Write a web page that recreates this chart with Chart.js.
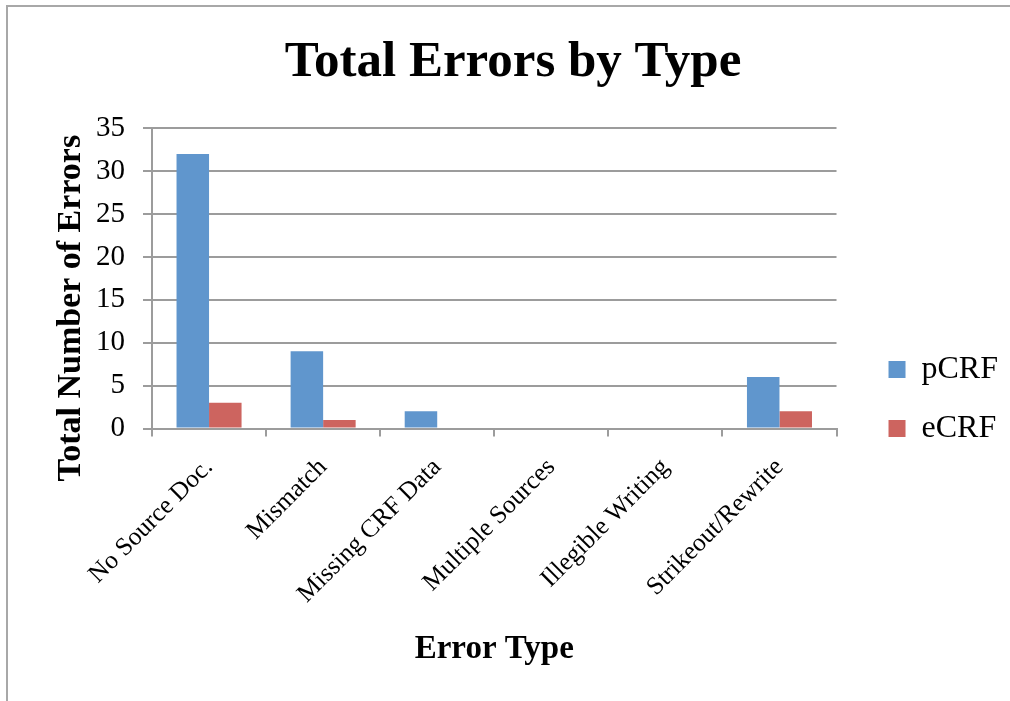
<!DOCTYPE html>
<html>
<head>
<meta charset="utf-8">
<title>Total Errors by Type</title>
<script src="https://cdn.jsdelivr.net/npm/chart.js@4.4.1/dist/chart.umd.min.js"></script>
<style>
    html, body { margin: 0; padding: 0; background: #fff; overflow: hidden; }
    #frame {
        position: absolute; left: 6px; top: 5px; width: 2000px; height: 2000px;
        border-left: 2px solid #a8a8a8; border-top: 2px solid #a8a8a8;
    }
    #wrap { position: absolute; left: 0; top: 0; width: 1010px; height: 701px; }
</style>
</head>
<body>
<div id="frame"></div>
<div id="wrap"><canvas id="errorsChart"></canvas></div>
<script>
// data
const categories = ['No Source Doc.', 'Mismatch', 'Missing CRF Data', 'Multiple Sources', 'Illegible Writing', 'Strikeout/Rewrite'];
const seriesNames = ['pCRF', 'eCRF'];
const pcrfValues = [32, 9, 2, 0, 0, 6];
const ecrfValues = [3, 1, 0, 0, 0, 2];
const yMin = 0;
const yMax = 35;
const yStep = 5;

const serif = 'Liberation Serif';
const gridGray = '#9c9c9c';

const ctx = document.getElementById('errorsChart').getContext('2d');

new Chart(ctx, {
    type: 'bar',
    data: {
        labels: categories,
        datasets: [
            { label: seriesNames[0], data: pcrfValues, backgroundColor: '#6096cd' },
            { label: seriesNames[1], data: ecrfValues, backgroundColor: '#cd645f' }
        ]
    },
    options: {
        responsive: true,
        maintainAspectRatio: false,
        animation: false,
        categoryPercentage: 0.57,
        barPercentage: 1,
        layout: { padding: { left: 18, right: 2, top: 0, bottom: 0 } },
        plugins: {
            title: {
                display: true,
                text: 'Total Errors by Type',
                color: '#000',
                font: { family: serif, size: 51, weight: 'bold', lineHeight: 1.2 },
                padding: { top: 32, bottom: 35 }
            },
            legend: {
                position: 'right',
                title: { display: true, text: '', font: { size: 10 }, padding: { top: 85, bottom: 0 } },
                labels: {
                    color: '#000',
                    boxWidth: 17,
                    boxHeight: 17,
                    padding: 27,
                    font: { family: serif, size: 32 }
                }
            },
            tooltip: { enabled: false }
        },
        scales: {
            x: {
                grid: {
                    display: true,
                    drawOnChartArea: false,
                    tickLength: 8,
                    color: gridGray,
                    lineWidth: 2
                },
                border: { display: true, color: gridGray, width: 2 },
                ticks: {
                    color: '#000',
                    autoSkip: false,
                    minRotation: 45,
                    maxRotation: 45,
                    padding: 16,
                    font: { family: serif, size: 25.5 }
                },
                title: {
                    display: true,
                    text: 'Error Type',
                    color: '#000',
                    font: { family: serif, size: 33, weight: 'bold', lineHeight: 1.2 },
                    padding: { top: 4, bottom: 32 }
                }
            },
            y: {
                min: yMin,
                max: yMax,
                ticks: {
                    stepSize: yStep,
                    color: '#000',
                    padding: 18,
                    font: { family: serif, size: 29 }
                },
                grid: { color: gridGray, lineWidth: 2, tickLength: 9 },
                border: { display: true, color: gridGray, width: 2 },
                title: {
                    display: true,
                    // trailing spaces push the rotated title down a little, as in the original
                    text: 'Total Number of Errors       ',
                    color: '#000',
                    font: { family: serif, size: 34, weight: 'bold', lineHeight: 1.2 },
                    padding: { top: 33, bottom: 5 }
                },
                afterFit: (scale) => { scale.width = 134; }
            },
            // empty right-hand axis, only keeps a gap between the plot and the legend
            gap: {
                position: 'right',
                display: true,
                grid: { display: false },
                border: { display: false },
                ticks: { display: false },
                afterFit: (scale) => { scale.width = 25; }
            }
        }
    }
});
</script>
</body>
</html>
